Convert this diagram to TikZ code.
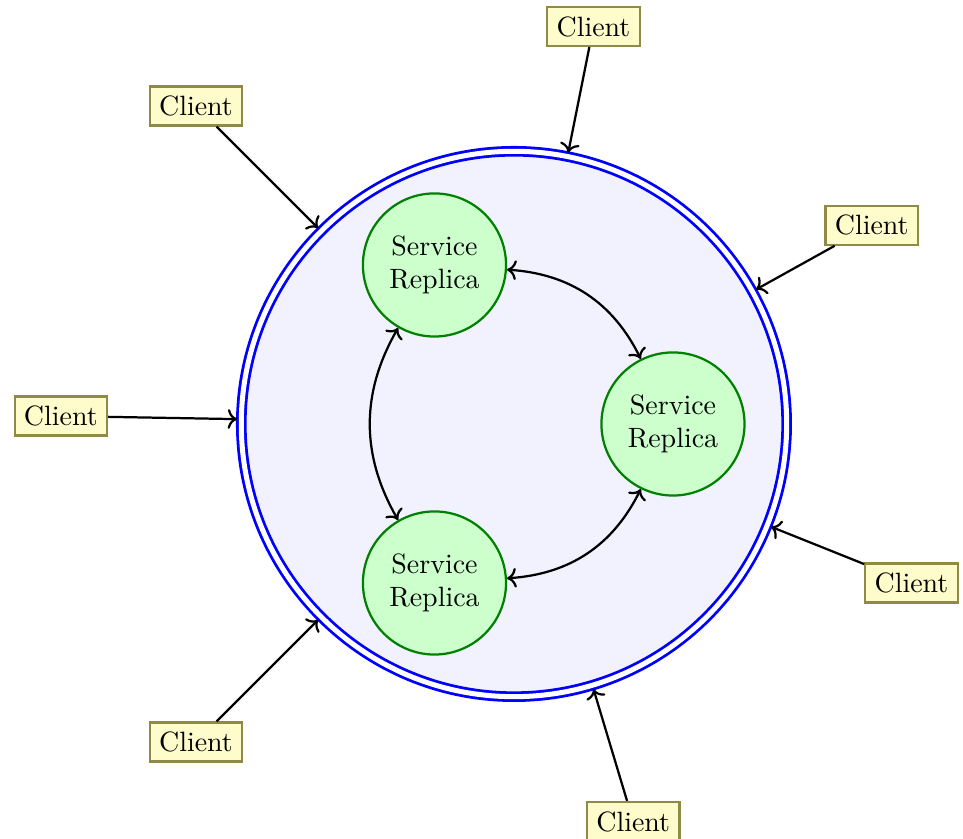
\documentclass[tikz,border=0pt]{standalone}
\usepackage{tikz}
\usetikzlibrary{arrows.meta, positioning, shapes.geometric}

\begin{document}
\begin{tikzpicture}[
  cluster/.style={circle, draw=blue, line width=1pt, double, double distance=1.8pt,
                  fill=blue!5, minimum size=6.86cm, outer sep=1.5pt},
  replica/.style={circle, draw=green!50!black, thick, fill=green!20,
                  minimum size=1.8cm, align=center},
  client/.style={draw=yellow!50!black, thick, fill=yellow!20},
  arrow/.style={->, thick},
  sync/.style={<->, thick}
]
  \useasboundingbox (-6.465,-5.22) rectangle (5.648,5.333);

  \node[cluster] (ring) at (0,0) {};

  \node[replica] (r1) at (-1,2)  {Service\\Replica};
  \node[replica] (r2) at (2,0)   {Service\\Replica};
  \node[replica] (r3) at (-1,-2) {Service\\Replica};

  \draw[sync] (r1) to[bend left=30] (r2);
  \draw[sync] (r2) to[bend left=30] (r3);
  \draw[sync] (r3) to[bend left=30] (r1);

  \node[client] (c1) at (1,5)      {Client};
  \node[client] (c2) at (-4,4)     {Client};
  \node[client] (c3) at (4.5,2.5)  {Client};
  \node[client] (c4) at (-5.7,0.1) {Client};
  \node[client] (c5) at (5,-2)     {Client};
  \node[client] (c6) at (-4,-4)    {Client};
  \node[client] (c7) at (1.5,-5)   {Client};

  \draw[arrow] (c1) -- (ring);
  \draw[arrow] (c2) -- (ring);
  \draw[arrow] (c3) -- (ring);
  \draw[arrow] (c4) -- (ring);
  \draw[arrow] (c5) -- (ring);
  \draw[arrow] (c6) -- (ring);
  \draw[arrow] (c7) -- (ring);
\end{tikzpicture}
\end{document}
